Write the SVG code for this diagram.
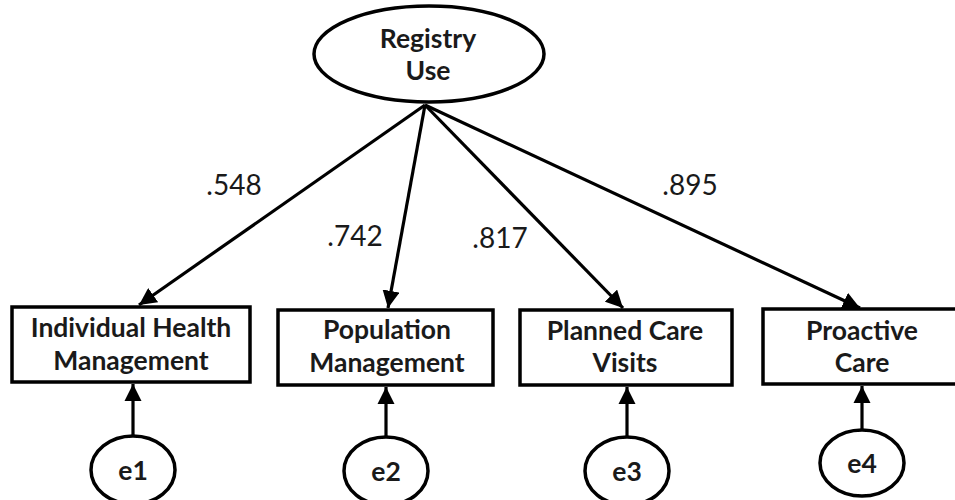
<svg xmlns="http://www.w3.org/2000/svg" width="955" height="500" viewBox="0 0 955 500">
  <style>
    .shape { fill: #fff; stroke: #000; stroke-width: 3.5; }
    .node-text { font-family: Lato, "Open Sans", sans-serif; font-weight: bold; font-size: 26.5px; fill: #1a1a1a; text-anchor: middle; }
    .coef { font-family: Lato, "Open Sans", sans-serif; font-size: 28px; fill: #1a1a1a; text-anchor: middle; }
    .edge { stroke: #000; stroke-width: 3.2; fill: none; marker-end: url(#head); }
  </style>
  <defs>
    <marker id="head" viewBox="0 0 10 10" refX="10" refY="5" markerWidth="5.4" markerHeight="5.4" markerUnits="strokeWidth" orient="auto">
      <path d="M0,0 L10,5 L0,10 Z" fill="#000"/>
    </marker>
  </defs>
  <rect width="955" height="500" fill="#fff"/>

  <!-- latent factor -->
  <g id="registry-use">
    <ellipse class="shape" cx="429" cy="54" rx="115" ry="48"/>
    <text class="node-text" x="428" y="48">Registry</text>
    <text class="node-text" x="428" y="80">Use</text>
  </g>

  <!-- observed indicators -->
  <g id="individual-health">
    <rect class="shape" x="12" y="307" width="238" height="75"/>
    <text class="node-text" x="131" y="337">Individual Health</text>
    <text class="node-text" x="131" y="370">Management</text>
  </g>
  <g id="population-management">
    <rect class="shape" x="278" y="310" width="215" height="75"/>
    <text class="node-text" x="387" y="339">Population</text>
    <text class="node-text" x="387" y="372">Management</text>
  </g>
  <g id="planned-care">
    <rect class="shape" x="520" y="310" width="212" height="75"/>
    <text class="node-text" x="625" y="340">Planned Care</text>
    <text class="node-text" x="625" y="372">Visits</text>
  </g>
  <g id="proactive-care">
    <rect class="shape" x="763" y="309" width="210" height="75"/>
    <text class="node-text" x="862" y="340">Proactive</text>
    <text class="node-text" x="862" y="372">Care</text>
  </g>

  <!-- error terms -->
  <g id="e1">
    <ellipse class="shape" cx="133" cy="470" rx="42" ry="34"/>
    <text class="node-text" x="133" y="480">e1</text>
  </g>
  <g id="e2">
    <ellipse class="shape" cx="386" cy="471" rx="42" ry="34"/>
    <text class="node-text" x="386" y="481">e2</text>
  </g>
  <g id="e3">
    <ellipse class="shape" cx="627" cy="471" rx="42" ry="34"/>
    <text class="node-text" x="627" y="481">e3</text>
  </g>
  <g id="e4">
    <ellipse class="shape" cx="862" cy="463" rx="42" ry="33"/>
    <text class="node-text" x="862" y="473">e4</text>
  </g>

  <!-- connectors -->
  <g id="connectors">
    <line class="edge" x1="425" y1="105" x2="139" y2="305"/>
    <line class="edge" x1="425" y1="105" x2="388" y2="308"/>
    <line class="edge" x1="425" y1="105" x2="623" y2="308"/>
    <line class="edge" x1="425" y1="105" x2="860" y2="308"/>
    <line class="edge" x1="133" y1="436" x2="133" y2="384"/>
    <line class="edge" x1="386" y1="437" x2="386" y2="387"/>
    <line class="edge" x1="627" y1="437" x2="627" y2="387"/>
    <line class="edge" x1="862" y1="430" x2="862" y2="386"/>
  </g>

  <!-- standardized loadings -->
  <g id="loadings">
    <text class="coef" x="234" y="195">.548</text>
    <text class="coef" x="355" y="246">.742</text>
    <text class="coef" x="500" y="248">.817</text>
    <text class="coef" x="690" y="195">.895</text>
  </g>
</svg>
